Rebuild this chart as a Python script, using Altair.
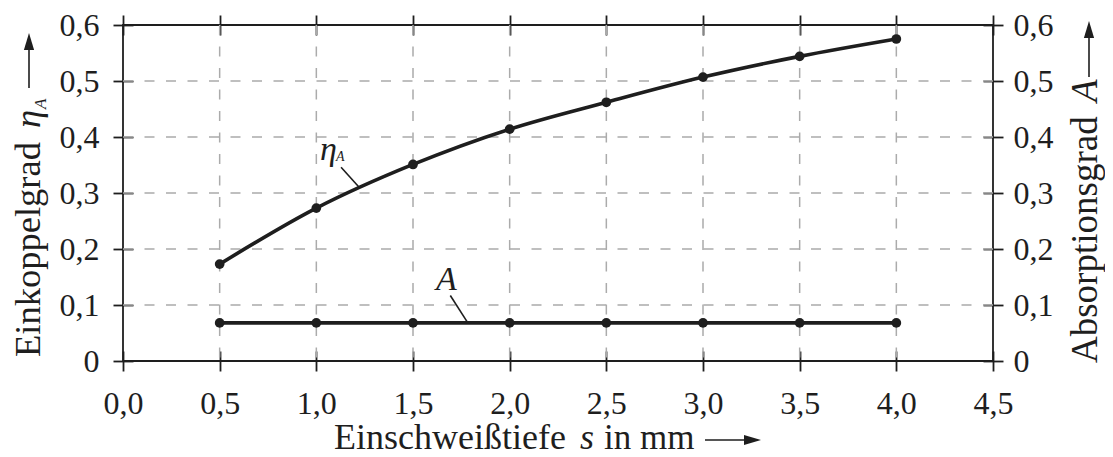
import altair as alt
import pandas as pd

# ---- data ----
s_vals = [0.5, 1.0, 1.5, 2.0, 2.5, 3.0, 3.5, 4.0]
eta_vals = [0.173, 0.273, 0.351, 0.414, 0.462, 0.507, 0.544, 0.575]
a_vals = [0.068, 0.068, 0.068, 0.068, 0.068, 0.068, 0.068, 0.068]

x_ticks = [0.0, 0.5, 1.0, 1.5, 2.0, 2.5, 3.0, 3.5, 4.0, 4.5]
y_ticks = [0.0, 0.1, 0.2, 0.3, 0.4, 0.5, 0.6]
x_grid = [0.5, 1.0, 1.5, 2.0, 2.5, 3.0, 3.5, 4.0]
y_grid = [0.1, 0.2, 0.3, 0.4, 0.5]

# annotation leader lines (data units)
leader_key = ["eta", "eta", "A", "A"]
leader_s = [1.128, 1.219, 1.693, 1.782]
leader_v = [0.346, 0.311, 0.117, 0.069]

# texts
x_title_parts = ["Einschweißtiefe", "s", "in mm"]
left_title_parts = ["Einkoppelgrad", "η", "A"]
right_title_parts = ["Absorptionsgrad", "A"]
curve_labels = ["η", "A", "A"]

FONT = "Liberation Serif"
INK = "#1e1e1e"
W, H = 870, 336

xs = alt.Scale(domain=[0, 4.5], nice=False, zero=False)
ys = alt.Scale(domain=[0, 0.6], nice=False, zero=False)

x_expr = "replace(format(datum.value, '.1f'), '.', ',')"
y_expr = "datum.value == 0 ? '0' : replace(format(datum.value, '.1f'), '.', ',')"

common = dict(offset=-10, tickSize=20, tickWidth=1.8, tickColor=INK, domain=False,
              grid=False, labelFont=FONT, labelFontSize=32, labelColor=INK,
              labelOverlap=False, title=None)

df_eta = pd.DataFrame({"s": s_vals, "v": eta_vals})
df_a = pd.DataFrame({"s": s_vals, "v": a_vals})
df_lead = pd.DataFrame({"k": leader_key, "s": leader_s, "v": leader_v})

eta_line = alt.Chart(df_eta).mark_line(color=INK, strokeWidth=3.6, interpolate="monotone").encode(
    x=alt.X("s:Q", scale=xs, axis=alt.Axis(orient="bottom", values=x_ticks, labelExpr=x_expr,
                                           labelFlush=False, labelPadding=17, **common)),
    y=alt.Y("v:Q", scale=ys, axis=alt.Axis(orient="left", values=y_ticks, labelExpr=y_expr,
                                           labelPadding=14, **common)),
)
a_line = alt.Chart(df_a).mark_line(color=INK, strokeWidth=3.6).encode(
    x=alt.X("s:Q", scale=xs, axis=alt.Axis(orient="top", values=x_ticks, labels=False, **common)),
    y=alt.Y("v:Q", scale=ys, axis=alt.Axis(orient="right", values=y_ticks, labelExpr=y_expr,
                                           labelPadding=10, **common)),
)


def pts(df):
    return alt.Chart(df).mark_circle(size=95, color=INK, opacity=1).encode(
        x=alt.X("s:Q", scale=xs, axis=None), y=alt.Y("v:Q", scale=ys, axis=None))


grid_x = alt.Chart(pd.DataFrame({"g": x_grid})).mark_rule(
    color="#ababab", strokeWidth=1.5, strokeDash=[10, 11.5]).encode(
    x=alt.X("g:Q", scale=xs, axis=None))
grid_y = alt.Chart(pd.DataFrame({"g": y_grid})).mark_rule(
    color="#ababab", strokeWidth=1.5, strokeDash=[10, 11.5]).encode(
    y=alt.Y("g:Q", scale=ys, axis=None))

leaders = alt.Chart(df_lead).mark_line(color=INK, strokeWidth=1.6).encode(
    x=alt.X("s:Q", scale=xs, axis=None), y=alt.Y("v:Q", scale=ys, axis=None), detail="k:N")


def txt(label, x, y, size=37, italic=False, angle=0):
    kw = dict(font=FONT, fontSize=size, color=INK, align="left", baseline="alphabetic")
    if italic:
        kw["fontStyle"] = "italic"
    if angle:
        kw["angle"] = angle
    return alt.Chart(pd.DataFrame({"t": [label]})).mark_text(**kw).encode(
        text="t:N", x=alt.value(x), y=alt.value(y))


def arrow(x1, y1, x2, y2, direction):
    shaft = alt.Chart(pd.DataFrame({"t": [0]})).mark_rule(color=INK, strokeWidth=1.6).encode(
        x=alt.value(x1), y=alt.value(y1), x2=alt.value(x2), y2=alt.value(y2))
    if direction == "up":
        shape = "M0,-1L0.6,1L-0.6,1Z"
        hx, hy = x1, y1 - 8.5
    else:
        shape = "M1,0L-1,0.6L-1,-0.6Z"
        hx, hy = x2 + 8.5, y1
    head = alt.Chart(pd.DataFrame({"t": [0]})).mark_point(
        shape=shape, filled=True, size=289, color=INK, opacity=1, strokeWidth=0).encode(
        x=alt.value(hx), y=alt.value(hy))
    return [shaft, head]


texts = [
    # x title
    txt(x_title_parts[0], 211, 424, size=36),
    txt(x_title_parts[1], 457, 424, size=36, italic=True),
    txt(x_title_parts[2], 481, 424, size=35),
    # left title
    txt(left_title_parts[0], -83, 332, size=36.5, angle=270),
    txt(left_title_parts[1], -83, 103, size=36.5, italic=True, angle=270),
    txt(left_title_parts[2], -77, 84, size=17, italic=True, angle=270),
    # right title
    txt(right_title_parts[0], 974, 338, angle=270),
    txt(right_title_parts[1], 974, 77, italic=True, angle=270),
    # curve labels
    txt(curve_labels[0], 197, 135, size=34, italic=True),
    txt(curve_labels[1], 213, 136, size=14, italic=True),
    txt(curve_labels[2], 313, 265, size=34, italic=True),
]

arrows = arrow(582, 415, 621, 415, "right") + arrow(-94, 25, -94, 63, "up") + arrow(966, 13, 966, 52, "up")

chart = alt.layer(
    grid_x, grid_y, eta_line, a_line, leaders, pts(df_eta), pts(df_a),
    *texts, *arrows
).resolve_axis(x="independent", y="independent").properties(
    width=W, height=H,
    autosize=alt.AutoSizeParams(type="none"),
    padding={"left": 115, "top": 17, "right": 112, "bottom": 96},
).configure_view(stroke=INK, strokeWidth=1.8).configure_axis(
    labelFont=FONT, labelFontSize=32, labelColor=INK
).configure_text(font=FONT)

chart.save("out.html", embed_options={"renderer": "svg", "actions": False})
